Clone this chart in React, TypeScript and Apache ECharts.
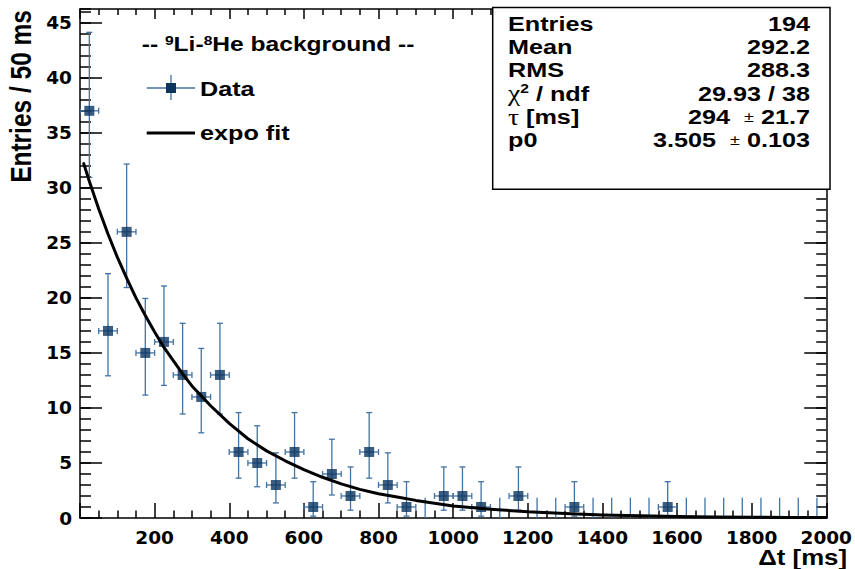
import React, { useEffect, useRef } from "react";
import * as echarts from "echarts";

// ---- data ----
const binCenters = [25, 75, 125, 175, 225, 275, 325, 375, 425, 475, 525, 575, 625, 675, 725, 775, 825, 875, 925, 975, 1025, 1075, 1125, 1175, 1225, 1275, 1325, 1375, 1425, 1475, 1525, 1575, 1625, 1675, 1725, 1775, 1825, 1875, 1925, 1975];
const counts = [37, 17, 26, 15, 16, 13, 11, 13, 6, 5, 3, 6, 1, 4, 2, 6, 3, 1, 0, 2, 2, 1, 0, 2, 0, 0, 1, 0, 0, 0, 0, 1, 0, 0, 0, 0, 0, 0, 0, 0];
const errLow = [30.95, 12.92, 20.94, 11.17, 12.05, 9.45, 7.74, 9.45, 3.62, 2.84, 1.37, 3.62, 0.17, 2.09, 0.71, 3.62, 1.37, 0.17, 0, 0.71, 0.71, 0.17, 0, 0.71, 0, 0, 0.17, 0, 0, 0, 0, 0.17, 0, 0, 0, 0, 0, 0, 0, 0];
const errHigh = [44.13, 22.2, 32.16, 19.95, 21.08, 17.69, 15.41, 17.69, 9.58, 8.38, 5.92, 9.58, 3.3, 7.16, 4.64, 9.58, 5.92, 3.3, 1.84, 4.64, 4.64, 3.3, 1.84, 4.64, 1.84, 1.84, 3.3, 1.84, 1.84, 1.84, 1.84, 3.3, 1.84, 1.84, 1.84, 1.84, 1.84, 1.84, 1.84, 1.84];
const binWidth = 50;

const fitX = [10, 25, 50, 75, 100, 125, 150, 175, 200, 225, 250, 275, 300, 350, 400, 450, 500, 550, 600, 650, 700, 750, 800, 850, 900, 1000, 1100, 1200, 1300, 1400, 1500, 1600, 1700, 1800, 1900, 2000];
const fitY = [32.2, 30.6, 28.1, 25.8, 23.7, 21.8, 20.0, 18.4, 16.9, 15.5, 14.3, 13.1, 12.0, 10.2, 8.6, 7.2, 6.1, 5.2, 4.4, 3.7, 3.1, 2.6, 2.2, 1.9, 1.6, 1.1, 0.8, 0.56, 0.4, 0.28, 0.2, 0.14, 0.1, 0.07, 0.05, 0.04];

const statLabels = ["Entries", "Mean", "RMS", "{g|χ}{sup|2} / ndf", "{g|τ} [ms]", "p0"];
const statValues = ["194", "292.2", "288.3", "29.93 / 38", "294  {pm|±} 21.7", "3.505  {pm|±} 0.103"];

const xMin = 0;
const xMax = 2000;
const yMin = 0;
const yMax = 46.25;

const MARKER = "#0a355f";
const ERR = "#4373a4";
const SANS = '"Liberation Sans", Arial, sans-serif';
const WIDE = '"DejaVu Sans", sans-serif';

export default function App() {
  const ref = useRef<HTMLDivElement>(null);

  useEffect(() => {
    if (!ref.current) return;
    const chart = echarts.init(ref.current, undefined, { renderer: "svg" });

    const errData = binCenters.map((c, i) => [c, counts[i], errLow[i], errHigh[i]]);
    const pointData = binCenters
      .map((c, i) => [c, counts[i]])
      .filter((d) => d[1] > 0);
    const fitData = fitX.map((x, i) => [x, fitY[i]]);

    const tickStyle = { color: "#000", width: 1.5 };
    const lineStyle = { color: "#000", width: 1.5 };
    const labelStyle = {
      color: "#000",
      fontFamily: WIDE,
      fontWeight: "bold" as const,
      fontSize: 18.5,
    };

    const statsGraphics: any[] = [];
    statLabels.forEach((lab, i) => {
      const y = 23.3 + i * 23.35;
      statsGraphics.push({
        type: "text",
        x: 508,
        y,
        scaleX: 1.2,
        z: 101,
        style: {
          text: lab,
          fontFamily: SANS,
          fontWeight: "bold",
          fontSize: 21,
          fill: "#000",
          align: "left",
          textAlign: "left",
          verticalAlign: "middle",
          textVerticalAlign: "middle",
          rich: {
            g: { fontFamily: '"Liberation Serif", serif', fontWeight: "normal", fontSize: 23, fill: "#000" },
            sup: { fontFamily: SANS, fontWeight: "bold", fontSize: 13, verticalAlign: "top", fill: "#000" },
          },
        },
      });
      statsGraphics.push({
        type: "text",
        x: 810,
        y,
        scaleX: 1.2,
        z: 101,
        style: {
          text: statValues[i],
          fontFamily: SANS,
          fontWeight: "bold",
          fontSize: 21,
          fill: "#000",
          align: "right",
          textAlign: "right",
          verticalAlign: "middle",
          textVerticalAlign: "middle",
          rich: {
            pm: { fontFamily: SANS, fontWeight: "normal", fontSize: 15, fill: "#000" },
          },
        },
      });
    });

    const option: any = {
      animation: false,
      backgroundColor: "#fff",
      grid: { left: 80, right: 25, top: 9, bottom: 51, containLabel: false },
      xAxis: [
        {
          type: "value",
          min: xMin,
          max: xMax,
          interval: 200,
          position: "bottom",
          axisLine: { show: true, onZero: false, lineStyle },
          axisTick: { show: true, inside: true, length: 15, lineStyle: tickStyle },
          minorTick: { show: true, splitNumber: 4, length: 7.5, lineStyle: tickStyle },
          splitLine: { show: false },
          minorSplitLine: { show: false },
          axisLabel: {
            ...labelStyle,
            margin: 10,
            formatter: (v: number) => (v === 0 ? "" : String(v)),
          },
        },
        {
          type: "value",
          min: xMin,
          max: xMax,
          interval: 200,
          position: "top",
          axisLine: { show: true, onZero: false, lineStyle },
          axisTick: { show: true, inside: true, length: 10, lineStyle: tickStyle },
          minorTick: { show: true, splitNumber: 4, length: 6, lineStyle: tickStyle },
          splitLine: { show: false },
          minorSplitLine: { show: false },
          axisLabel: { show: false },
        },
      ],
      yAxis: [
        {
          type: "value",
          min: yMin,
          max: yMax,
          interval: 5,
          position: "left",
          axisLine: { show: true, onZero: false, lineStyle },
          axisTick: { show: true, inside: true, length: 22, lineStyle: tickStyle },
          splitLine: { show: false },
          axisLabel: {
            ...labelStyle,
            margin: 8,
            showMaxLabel: false,
            formatter: (v: number) => (v % 5 === 0 ? String(v) : ""),
          },
        },
        {
          type: "value",
          min: yMin,
          max: yMax,
          interval: 1,
          position: "left",
          axisLine: { show: false, onZero: false },
          axisTick: { show: true, inside: true, length: 11, lineStyle: tickStyle },
          splitLine: { show: false },
          axisLabel: { show: false },
        },
        {
          type: "value",
          min: yMin,
          max: yMax,
          interval: 5,
          position: "right",
          axisLine: { show: true, onZero: false, lineStyle },
          axisTick: { show: true, inside: true, length: 22, lineStyle: tickStyle },
          splitLine: { show: false },
          axisLabel: { show: false },
        },
        {
          type: "value",
          min: yMin,
          max: yMax,
          interval: 1,
          position: "right",
          axisLine: { show: false, onZero: false },
          axisTick: { show: true, inside: true, length: 10, lineStyle: tickStyle },
          splitLine: { show: false },
          axisLabel: { show: false },
        },
      ],
      series: [
        {
          name: "errors",
          type: "custom",
          xAxisIndex: 0,
          yAxisIndex: 0,
          z: 2,
          clip: true,
          data: errData,
          renderItem: (params: any, api: any) => {
            const x = api.value(0);
            const y = api.value(1);
            const lo = api.value(2);
            const hi = api.value(3);
            const pTop = api.coord([x, hi]);
            const pBot = api.coord([x, lo]);
            const st = { stroke: ERR, lineWidth: 1.3 };
            const children: any[] = [
              { type: "line", shape: { x1: pTop[0], y1: pTop[1], x2: pBot[0], y2: pBot[1] }, style: st },
            ];
            if (y > 0) {
              const pL = api.coord([x - binWidth / 2, y]);
              const pR = api.coord([x + binWidth / 2, y]);
              const c = 3;
              children.push(
                { type: "line", shape: { x1: pTop[0] - c, y1: pTop[1], x2: pTop[0] + c, y2: pTop[1] }, style: st },
                { type: "line", shape: { x1: pBot[0] - c, y1: pBot[1], x2: pBot[0] + c, y2: pBot[1] }, style: st },
                { type: "line", shape: { x1: pL[0], y1: pL[1], x2: pR[0], y2: pR[1] }, style: st },
                { type: "line", shape: { x1: pL[0], y1: pL[1] - c, x2: pL[0], y2: pL[1] + c }, style: st },
                { type: "line", shape: { x1: pR[0], y1: pR[1] - c, x2: pR[0], y2: pR[1] + c }, style: st }
              );
            }
            return { type: "group", children };
          },
        },
        {
          name: "Data",
          type: "scatter",
          xAxisIndex: 0,
          yAxisIndex: 0,
          z: 3,
          symbol: "rect",
          symbolSize: 10,
          itemStyle: { color: MARKER },
          data: pointData,
        },
        {
          name: "expo fit",
          type: "line",
          xAxisIndex: 0,
          yAxisIndex: 0,
          z: 4,
          smooth: false,
          showSymbol: false,
          symbol: "none",
          clip: true,
          lineStyle: { color: "#000", width: 3, join: "round", cap: "round" },
          data: fitData,
        },
      ],
      graphic: [
        // y-axis title
        {
          type: "text",
          x: 21.5,
          y: 10,
          rotation: Math.PI / 2,
          scaleY: 1.2,
          style: {
            text: "Entries / 50 ms",
            fontFamily: SANS,
            fontWeight: "bold",
            fontSize: 24.5,
            fill: "#000",
            align: "right",
            textAlign: "right",
            verticalAlign: "middle",
            textVerticalAlign: "middle",
          },
        },
        // x-axis title
        {
          type: "text",
          x: 847,
          y: 557.5,
          scaleX: 1.2,
          style: {
            text: "Δt [ms]",
            fontFamily: SANS,
            fontWeight: "bold",
            fontSize: 21.5,
            fill: "#000",
            align: "right",
            textAlign: "right",
            verticalAlign: "middle",
            textVerticalAlign: "middle",
          },
        },
        // legend
        {
          type: "text",
          x: 141.7,
          y: 44,
          scaleX: 1.2,
          z: 50,
          style: {
            text: "-- {sup|9}Li-{sup|8}He background --",
            fontFamily: SANS,
            fontWeight: "bold",
            fontSize: 20.5,
            fill: "#000",
            align: "left",
            textAlign: "left",
            verticalAlign: "middle",
            textVerticalAlign: "middle",
            rich: {
              sup: { fontFamily: SANS, fontWeight: "bold", fontSize: 13, verticalAlign: "top", fill: "#000" },
            },
          },
        },
        { type: "line", z: 50, shape: { x1: 146.7, y1: 88, x2: 195, y2: 88 }, style: { stroke: ERR, lineWidth: 1.3 } },
        { type: "line", z: 50, shape: { x1: 171, y1: 75, x2: 171, y2: 100 }, style: { stroke: ERR, lineWidth: 1.3 } },
        { type: "rect", z: 51, shape: { x: 166, y: 83, width: 10, height: 10 }, style: { fill: MARKER } },
        {
          type: "text",
          x: 200,
          y: 89,
          scaleX: 1.2,
          z: 50,
          style: {
            text: "Data",
            fontFamily: SANS,
            fontWeight: "bold",
            fontSize: 21,
            fill: "#000",
            align: "left",
            textAlign: "left",
            verticalAlign: "middle",
            textVerticalAlign: "middle",
          },
        },
        { type: "line", z: 50, shape: { x1: 146.7, y1: 133, x2: 195, y2: 133 }, style: { stroke: "#000", lineWidth: 3 } },
        {
          type: "text",
          x: 200,
          y: 133,
          scaleX: 1.2,
          z: 50,
          style: {
            text: "expo fit",
            fontFamily: SANS,
            fontWeight: "bold",
            fontSize: 21,
            fill: "#000",
            align: "left",
            textAlign: "left",
            verticalAlign: "middle",
            textVerticalAlign: "middle",
          },
        },
        // stats box
        {
          type: "rect",
          z: 100,
          shape: { x: 492.7, y: 7.5, width: 337.3, height: 181.8 },
          style: { fill: "#fff", stroke: "#000", lineWidth: 1.5 },
        },
        ...statsGraphics,
      ],
    };

    chart.setOption(option);
    return () => {
      chart.dispose();
    };
  }, []);

  return (
    <div
      ref={ref}
      style={{ position: "fixed", left: 0, top: 0, width: 855, height: 569, background: "#fff" }}
    />
  );
}
